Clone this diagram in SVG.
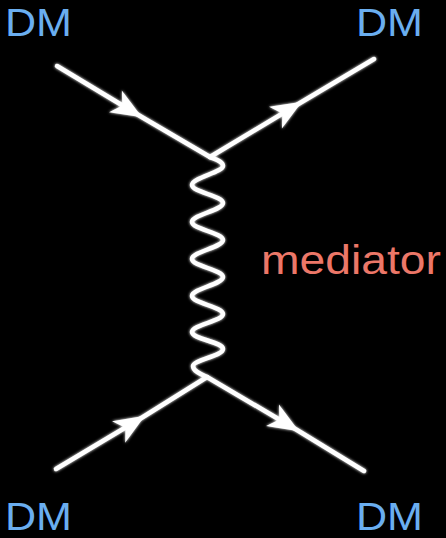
<svg xmlns="http://www.w3.org/2000/svg" width="446" height="538" viewBox="0 0 446 538">
  <style>
    .line { fill: none; stroke: #ffffff; stroke-width: 4.5; stroke-linecap: round; stroke-linejoin: round; }
    .dm { font-family: "Liberation Sans", Arial, sans-serif; font-size: 38px; fill: #6aaef0; }
    .med { font-family: "Liberation Sans", Arial, sans-serif; font-size: 40px; fill: #ec7768; }
  </style>
  <defs>
    <filter id="glow" x="-20%" y="-20%" width="140%" height="140%">
      <feGaussianBlur in="SourceGraphic" stdDeviation="1.5" result="b"/>
      <feMerge><feMergeNode in="b"/><feMergeNode in="SourceGraphic"/></feMerge>
    </filter>
    <marker id="arrow" markerUnits="userSpaceOnUse" markerWidth="40" markerHeight="40" viewBox="-30 -15 35 30" refX="0" refY="0" orient="auto" overflow="visible">
      <path d="M2,0 L-25,-11 L-18,0 L-25,11 Z" fill="#ffffff"/>
    </marker>
  </defs>
  <rect x="0" y="0" width="446" height="538" fill="#000000"/>
  <g id="connectors" filter="url(#glow)">
    <path id="in-top" class="line" d="M57,66 L140,116 L210,157" marker-mid="url(#arrow)"/>
    <path id="out-top" class="line" d="M210,157 L300,103 L374,59" marker-mid="url(#arrow)"/>
    <path id="in-bottom" class="line" d="M56,469 L143,417 L207,377" marker-mid="url(#arrow)"/>
    <path id="out-bottom" class="line" d="M207,377 L297,430 L364,471" marker-mid="url(#arrow)"/>
    <path id="mediator-line" class="line" d="M210,157 C214,159 223,161 223,166 C223,172 192,178 192,185 C192,192 223,196 223,203 C223,210 192,215 192,222 C192,229 223,233 223,240 C223,247 192,252 192,259 C192,266 223,270 223,277 C223,284 192,289 192,296 C192,303 223,307 223,314 C223,321 192,325 192,332 C192,339 223,342 223,349 C223,356 193,360 193,366 C193,371 200,374 207,377"/>
  </g>
  <g id="dm-top-left"><text class="dm" x="5" y="36" textLength="67" lengthAdjust="spacingAndGlyphs">DM</text></g>
  <g id="dm-top-right"><text class="dm" x="356" y="36" textLength="67" lengthAdjust="spacingAndGlyphs">DM</text></g>
  <g id="dm-bottom-left"><text class="dm" x="5" y="530" textLength="67" lengthAdjust="spacingAndGlyphs">DM</text></g>
  <g id="dm-bottom-right"><text class="dm" x="356" y="530" textLength="67" lengthAdjust="spacingAndGlyphs">DM</text></g>
  <g id="mediator"><text class="med" x="261" y="274" textLength="180" lengthAdjust="spacingAndGlyphs">mediator</text></g>
</svg>
